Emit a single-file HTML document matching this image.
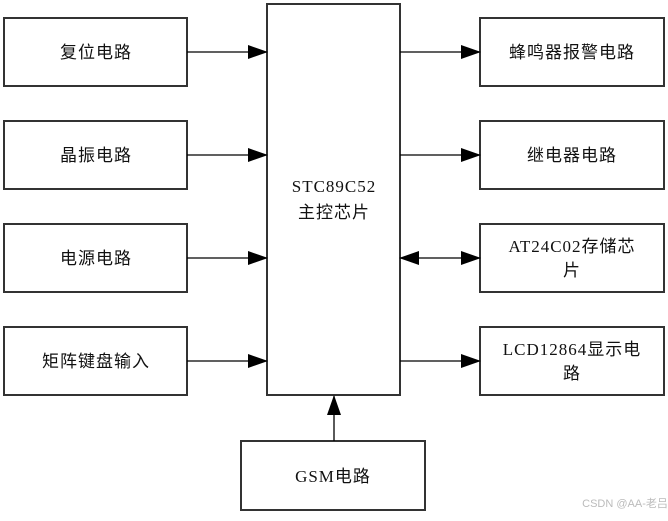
<!DOCTYPE html>
<html><head><meta charset="utf-8"><style>
body{margin:0;background:#fff;}
svg text{font-family:"Liberation Serif","Noto Sans CJK SC",serif;font-size:17px;fill:#111;letter-spacing:1px;}
</style></head><body>
<svg width="668" height="516" xmlns="http://www.w3.org/2000/svg">
<defs><marker id="a" markerWidth="20" markerHeight="14" refX="19" refY="7" orient="auto" markerUnits="userSpaceOnUse"><path d="M0,0 L20,7 L0,14 z" fill="#000"/></marker>
<marker id="b" markerWidth="20" markerHeight="14" refX="19" refY="7" orient="auto-start-reverse" markerUnits="userSpaceOnUse"><path d="M0,0 L20,7 L0,14 z" fill="#000"/></marker></defs>
<g fill="none" stroke="#333" stroke-width="2">
<rect x="4" y="18" width="183" height="68"/>
<rect x="4" y="121" width="183" height="68"/>
<rect x="4" y="224" width="183" height="68"/>
<rect x="4" y="327" width="183" height="68"/>
<rect x="267" y="4" width="133" height="391"/>
<rect x="480" y="18" width="184" height="68"/>
<rect x="480" y="121" width="184" height="68"/>
<rect x="480" y="224" width="184" height="68"/>
<rect x="480" y="327" width="184" height="68"/>
<rect x="241" y="441" width="184" height="69"/>
</g>
<g stroke="#000" stroke-width="1.3">
<line x1="187" y1="52" x2="267" y2="52" marker-end="url(#a)"/>
<line x1="187" y1="155" x2="267" y2="155" marker-end="url(#a)"/>
<line x1="187" y1="258" x2="267" y2="258" marker-end="url(#a)"/>
<line x1="187" y1="361" x2="267" y2="361" marker-end="url(#a)"/>
<line x1="400" y1="52" x2="480" y2="52" marker-end="url(#a)"/>
<line x1="400" y1="155" x2="480" y2="155" marker-end="url(#a)"/>
<line x1="400" y1="258" x2="480" y2="258" marker-start="url(#b)" marker-end="url(#b)"/>
<line x1="400" y1="361" x2="480" y2="361" marker-end="url(#a)"/>
<line x1="334" y1="441" x2="334" y2="396" marker-end="url(#a)"/>
</g>
<g text-anchor="middle">
<text x="96" y="58">复位电路</text>
<text x="96" y="161">晶振电路</text>
<text x="96" y="264">电源电路</text>
<text x="96" y="367">矩阵键盘输入</text>
<text x="334" y="192">STC89C52</text>
<text x="334" y="218">主控芯片</text>
<text x="572" y="58">蜂鸣器报警电路</text>
<text x="572" y="161">继电器电路</text>
<text x="572" y="252">AT24C02存储芯</text>
<text x="572" y="276">片</text>
<text x="572" y="355">LCD12864显示电</text>
<text x="572" y="379">路</text>
<text x="333" y="482">GSM电路</text>
<text x="625" y="507" style="font-size:11px;fill:#bbb;letter-spacing:0;font-family:'Liberation Sans','Noto Sans CJK SC',sans-serif">CSDN @AA-老吕</text>
</g>
</svg>
</body></html>
